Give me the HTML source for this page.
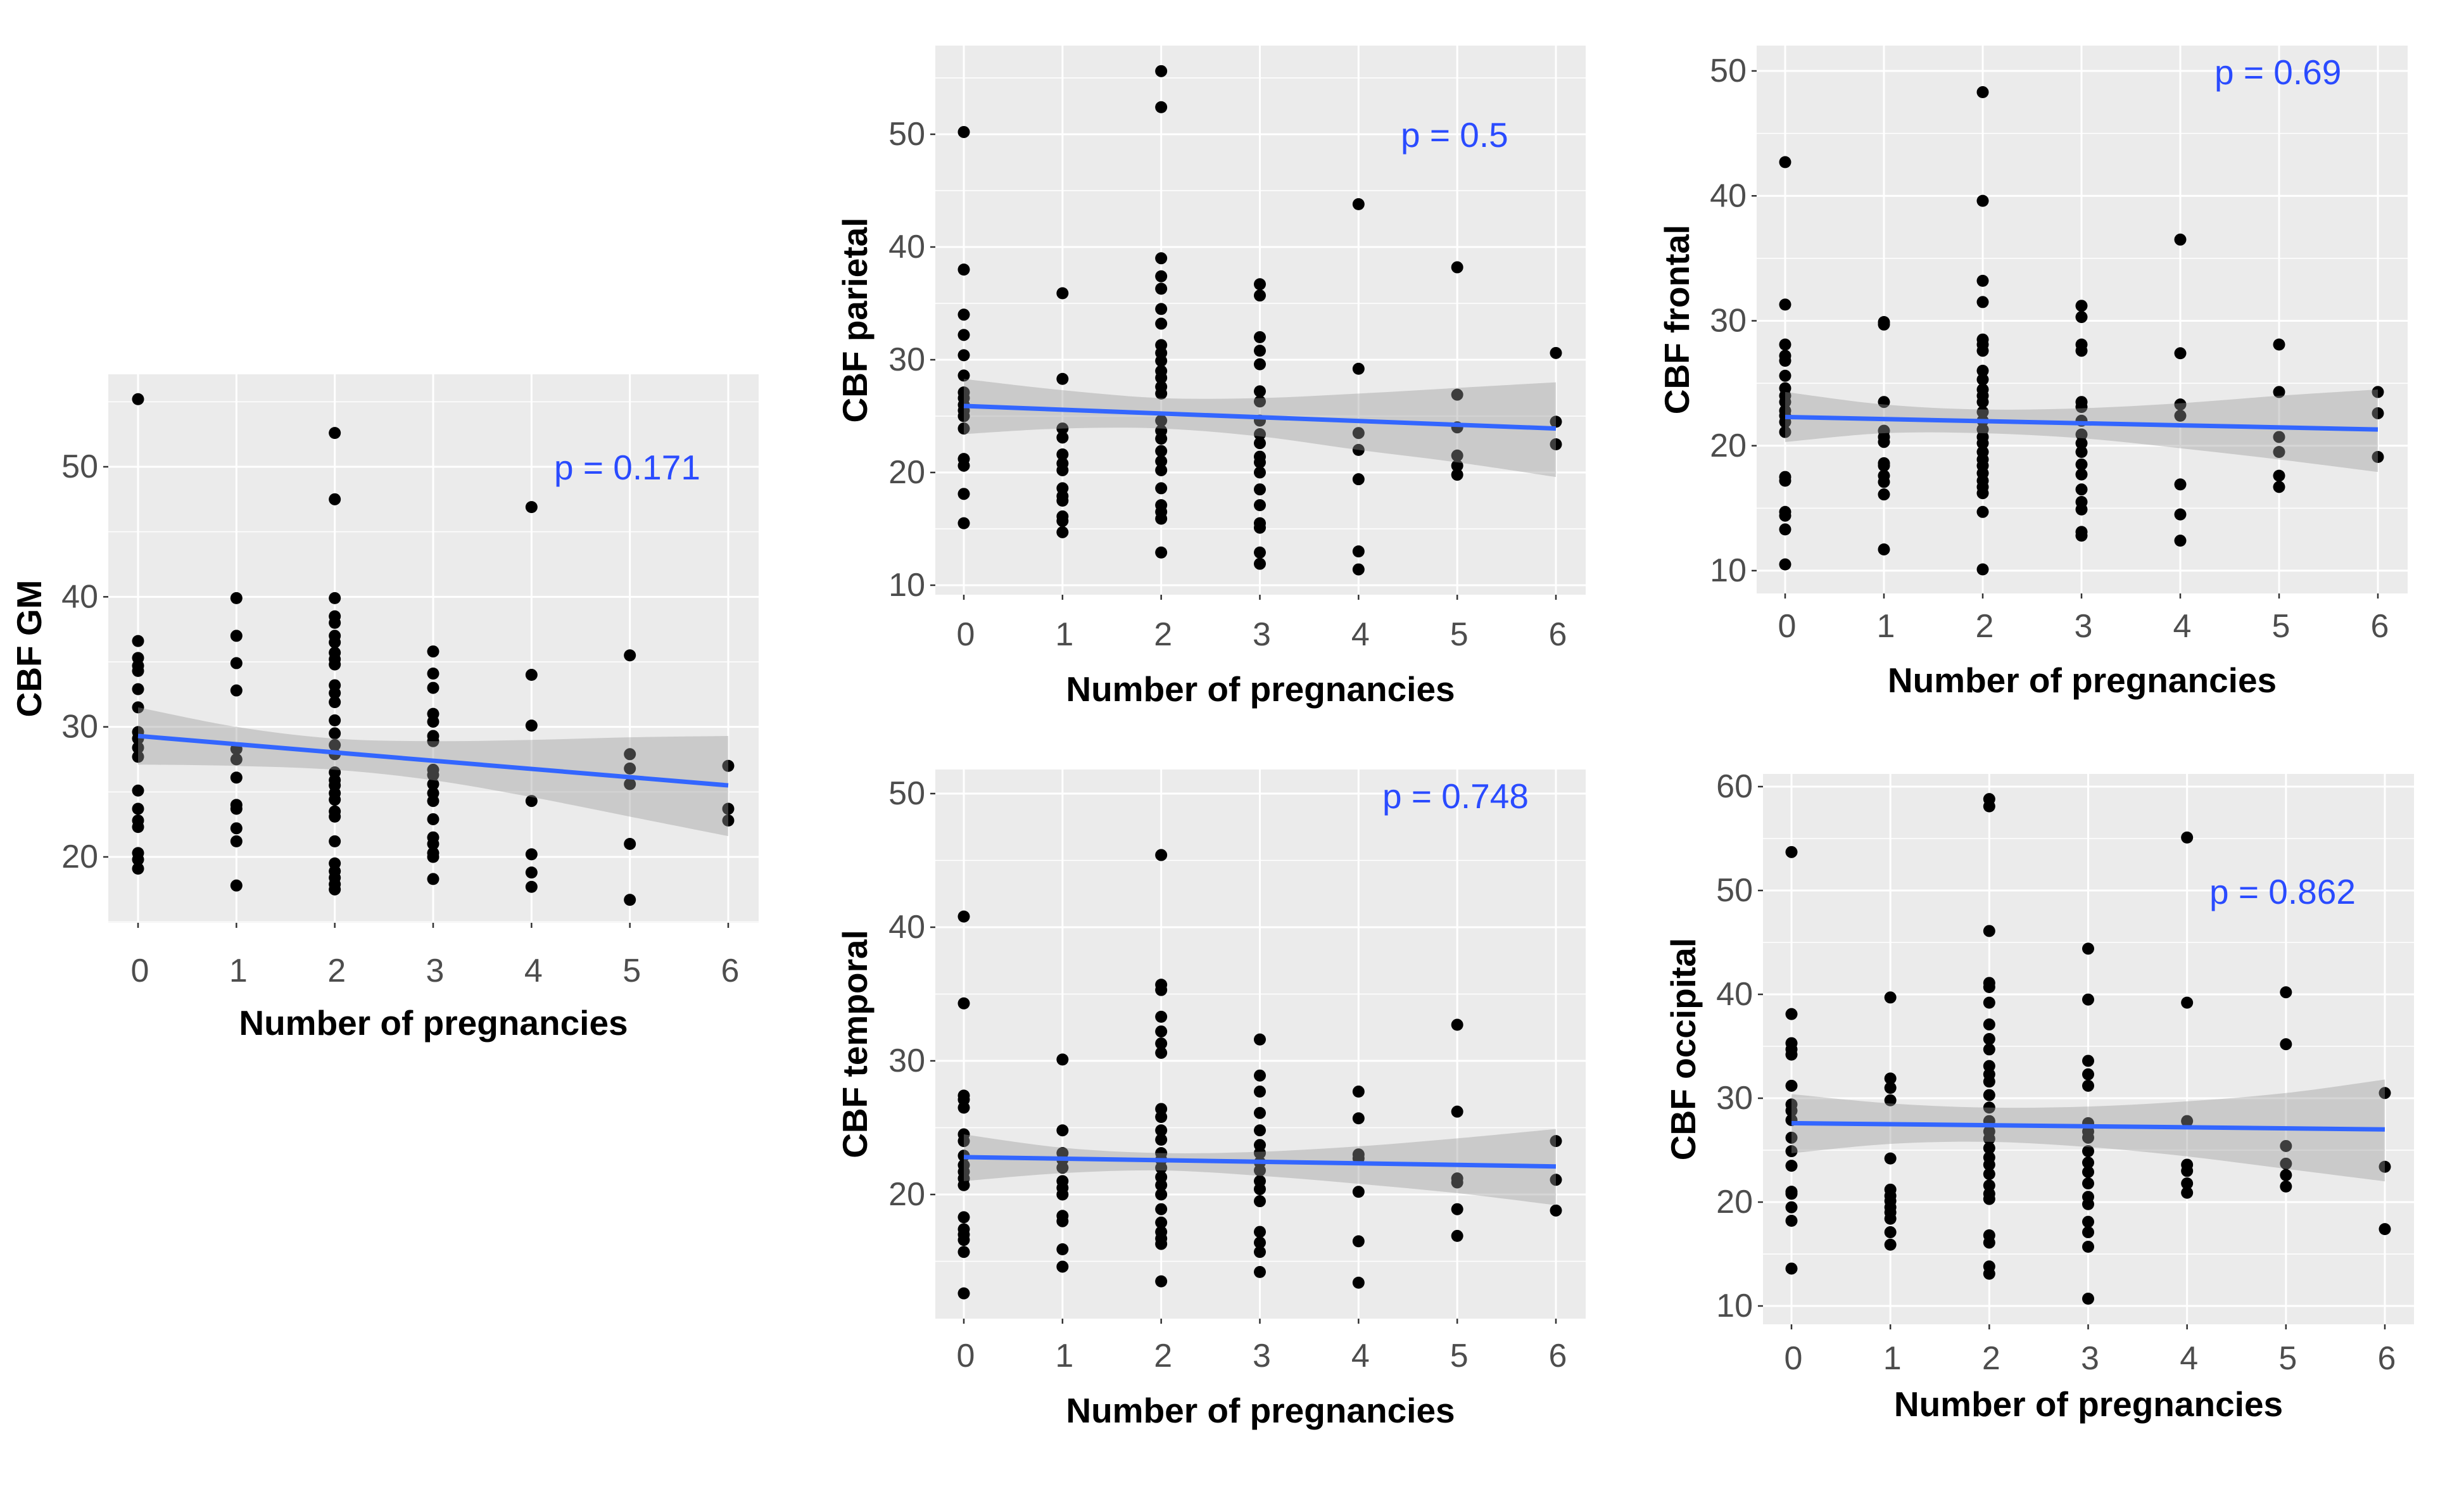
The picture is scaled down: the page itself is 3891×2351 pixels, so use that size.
<!DOCTYPE html>
<html><head><meta charset="utf-8">
<style>
html,body{margin:0;padding:0;background:#fff;}
svg{display:block;font-family:"Liberation Sans",Arial,sans-serif;}
</style></head>
<body>
<svg id="fig" width="3891" height="2351" viewBox="0 0 3891 2351" xmlns="http://www.w3.org/2000/svg"></svg>
<script>
// ---------- data ----------
const xCategories = [0,1,2,3,4,5,6];
const xTickLabels = ["0","1","2","3","4","5","6"];

const gmX0=[55.2,36.6,35.3,34.7,34.3,32.9,31.5,29.6,29.1,28.4,27.7,25.1,23.7,22.8,22.3,20.3,19.8,19.1];
const gmX1=[39.9,37.0,34.9,32.8,28.3,27.5,26.1,24.0,23.7,22.2,21.2,17.8];
const gmX2=[52.6,47.5,39.9,38.5,38.0,37.0,36.5,35.7,35.2,34.8,33.2,32.6,31.9,30.5,29.5,28.6,27.9,26.5,25.9,25.5,24.9,24.4,23.5,23.1,21.2,19.5,18.9,18.4,17.9,17.5];
const gmX3=[35.8,34.1,33.0,31.0,30.4,29.3,28.9,26.7,26.3,25.6,24.9,24.3,22.9,21.5,21.0,20.3,20.0,18.3];
const gmX4=[46.9,34.0,30.1,24.3,20.2,18.8,17.7];
const gmX5=[35.5,27.9,26.8,25.6,21.0,16.7];
const gmX6=[27.0,23.7,22.8];
const gmFit=[29.3,25.5];
const gmCiUpper=[31.5,30.0,29.1,28.9,29.0,29.2,29.3];
const gmCiLower=[27.1,27.0,26.7,25.9,24.6,23.1,21.6];
const gmYTicks=[20,30,40,50];

const parX0=[50.2,38.0,34.0,32.2,30.4,28.6,27.1,26.6,26.0,25.5,25.0,23.9,21.2,20.6,18.1,15.5];
const parX1=[35.9,28.3,23.9,23.1,21.6,20.8,20.2,18.6,17.9,17.5,16.1,15.7,14.7];
const parX2=[55.6,52.4,39.0,37.4,36.3,34.5,33.2,31.3,30.6,29.9,29.0,28.4,27.6,27.0,24.6,23.7,23.0,21.9,21.0,20.2,18.6,17.1,16.5,15.9,12.9];
const parX3=[36.7,35.7,32.0,30.8,29.6,27.2,26.3,24.6,23.4,22.6,21.4,20.9,20.0,18.5,17.1,15.5,15.1,12.9,11.9];
const parX4=[43.8,29.2,23.5,22.0,19.4,13.0,11.4];
const parX5=[38.2,26.9,24.0,21.5,20.6,19.8];
const parX6=[30.6,24.5,22.5];
const parFit=[25.9,23.9];
const parCiUpper=[28.3,27.3,26.6,26.6,27.0,27.5,28.0];
const parCiLower=[23.4,23.9,23.9,23.2,22.0,20.9,19.6];
const parYTicks=[10,20,30,40,50];

const froX0=[42.7,31.3,28.1,27.2,26.8,25.6,24.6,24.0,23.5,22.8,22.4,21.9,21.1,17.5,17.2,14.7,14.4,13.3,10.5];
const froX1=[29.9,29.7,23.5,21.2,20.7,20.3,18.6,18.4,17.6,17.1,16.1,11.7];
const froX2=[48.3,39.6,33.2,31.5,28.5,28.1,27.6,26.0,25.3,24.5,24.0,23.5,22.7,22.0,21.3,20.7,20.2,19.5,18.9,18.4,17.8,17.2,16.7,16.2,14.7,10.1];
const froX3=[31.2,30.3,28.1,27.6,23.5,23.1,22.0,20.9,20.2,19.5,18.5,17.7,16.5,15.5,14.9,13.1,12.8];
const froX4=[36.5,27.4,23.3,22.4,16.9,14.5,12.4];
const froX5=[28.1,24.3,20.7,19.5,17.6,16.7];
const froX6=[24.3,22.6,19.1];
const froFit=[22.3,21.3];
const froCiUpper=[24.3,23.3,22.9,23.0,23.4,24.0,24.5];
const froCiLower=[20.3,21.0,21.0,20.6,19.8,18.9,17.9];
const froYTicks=[10,20,30,40,50];

const temX0=[40.8,34.3,27.4,27.1,26.5,24.5,24.0,22.9,22.2,21.7,21.2,20.7,18.3,17.4,17.0,16.6,15.7,12.6];
const temX1=[30.1,24.8,23.1,22.6,22.0,21.0,20.5,20.0,18.4,18.0,15.9,14.6];
const temX2=[45.4,35.7,35.3,33.3,32.2,31.3,30.6,26.4,25.8,24.8,24.1,23.1,22.6,22.0,21.3,20.7,20.0,18.9,17.9,17.2,16.7,16.3,13.5];
const temX3=[31.6,28.9,27.7,26.1,24.8,23.7,23.1,22.4,21.8,21.0,20.4,19.5,17.2,16.4,15.7,14.2];
const temX4=[27.7,25.7,23.0,22.7,20.2,16.5,13.4];
const temX5=[32.7,26.2,21.2,20.9,18.9,16.9];
const temX6=[24.0,21.1,18.8];
const temFit=[22.8,22.1];
const temCiUpper=[24.5,23.5,23.1,23.2,23.6,24.2,24.9];
const temCiLower=[21.0,21.6,21.8,21.4,20.8,20.1,19.2];
const temYTicks=[20,30,40,50];

const occX0=[53.7,38.1,35.3,34.7,34.2,31.2,29.4,28.8,27.9,26.2,24.9,23.5,21.0,20.8,19.5,18.2,13.6];
const occX1=[39.7,31.9,31.0,29.8,24.2,21.2,20.6,20.1,19.5,19.0,18.4,17.1,15.9];
const occX2=[58.8,58.1,46.1,41.1,40.7,39.2,37.1,35.7,34.7,33.1,32.3,31.6,30.3,29.1,27.8,26.8,26.1,25.2,24.3,23.6,22.7,21.6,20.8,20.3,16.8,16.1,13.8,13.1];
const occX3=[44.4,39.5,33.6,32.3,31.2,27.6,26.8,26.2,24.9,23.8,22.9,21.8,20.5,19.8,18.1,17.1,15.7,10.7];
const occX4=[55.1,39.2,27.8,23.6,23.0,21.8,20.9];
const occX5=[40.2,35.2,25.4,23.7,22.6,21.5];
const occX6=[30.5,23.4,17.4];
const occFit=[27.6,27.0];
const occCiUpper=[30.4,29.5,29.1,29.2,29.7,30.5,31.8];
const occCiLower=[24.7,25.6,25.8,25.3,24.4,23.2,22.0];
const occYTicks=[10,20,30,40,50,60];

// ---------- layout (pixels, not data) ----------
const panels = [
 {key:"gm", title:"CBF GM", p:"p = 0.171", groups:[gmX0,gmX1,gmX2,gmX3,gmX4,gmX5,gmX6], fit:gmFit, up:gmCiUpper, lo:gmCiLower, ticks:gmYTicks,
  L:171,R:1198,T:591,B:1457, px0:218,px6:1150, ya:[50,737],yb:[20,1353], xlY:1533, xtY:1615, ytX:46, pX:875,pY:757},
 {key:"parietal", title:"CBF parietal", p:"p = 0.5", groups:[parX0,parX1,parX2,parX3,parX4,parX5,parX6], fit:parFit, up:parCiUpper, lo:parCiLower, ticks:parYTicks,
  L:1477,R:2504,T:72,B:939, px0:1522,px6:2457, ya:[50,212],yb:[10,924], xlY:1002, xtY:1088, ytX:1350, pX:2212,pY:232},
 {key:"frontal", title:"CBF frontal", p:"p = 0.69", groups:[froX0,froX1,froX2,froX3,froX4,froX5,froX6], fit:froFit, up:froCiUpper, lo:froCiLower, ticks:froYTicks,
  L:2774,R:3802,T:72,B:937, px0:2819,px6:3755, ya:[50,112],yb:[10,901], xlY:989, xtY:1074, ytX:2648, pX:3497,pY:133},
 {key:"temporal", title:"CBF temporal", p:"p = 0.748", groups:[temX0,temX1,temX2,temX3,temX4,temX5,temX6], fit:temFit, up:temCiUpper, lo:temCiLower, ticks:temYTicks,
  L:1477,R:2504,T:1215,B:2082, px0:1522,px6:2457, ya:[50,1253],yb:[20,1886], xlY:2141, xtY:2227, ytX:1350, pX:2183,pY:1276},
 {key:"occipital", title:"CBF occipital", p:"p = 0.862", groups:[occX0,occX1,occX2,occX3,occX4,occX5,occX6], fit:occFit, up:occCiUpper, lo:occCiLower, ticks:occYTicks,
  L:2784,R:3812,T:1222,B:2091, px0:2829,px6:3766, ya:[60,1242],yb:[10,2062], xlY:2145, xtY:2217, ytX:2658, pX:3489,pY:1427}
];

const NS="http://www.w3.org/2000/svg";
const svg=document.getElementById('fig');
function mk(tag,parent,attrs){const e=document.createElementNS(NS,tag);for(const k in attrs)e.setAttribute(k,attrs[k]);parent.appendChild(e);return e;}

panels.forEach(P=>{
  const g=mk('g',svg,{});
  
  
  const xs=v=>P.px0+(v-xCategories[0])*(P.px6-P.px0)/(xCategories[6]-xCategories[0]);
  const ys=v=>P.ya[1]+(v-P.ya[0])*(P.yb[1]-P.ya[1])/(P.yb[0]-P.ya[0]);

  const bg=mk('rect',g,{x:P.L,y:P.T,width:P.R-P.L,height:P.B-P.T,fill:'#ebebeb'});
  
  

  const step=P.ticks[1]-P.ticks[0];
  for(let v=P.ticks[0]-step/2; v<=P.ticks[P.ticks.length-1]+step/2+0.01; v+=step){
    const y=ys(v); if(y<P.T||y>P.B) continue;
    const m=mk('line',g,{x1:P.L,x2:P.R,y1:y,y2:y,stroke:'#fff','stroke-width':1.5});
    
    
  }
  P.ticks.forEach(v=>{
    const y=ys(v);
    const l=mk('line',g,{x1:P.L,x2:P.R,y1:y,y2:y,stroke:'#fff','stroke-width':3});
    
    
    mk('line',g,{x1:P.L-8,x2:P.L,y1:y,y2:y,stroke:'#333','stroke-width':2.5});
    const t=mk('text',g,{x:P.L-16,y:y,'text-anchor':'end','dominant-baseline':'central','font-size':52,fill:'#4d4d4d'});
    t.textContent=String(v);
    
    
  });
  xCategories.forEach((c,i)=>{
    const x=xs(c);
    const l=mk('line',g,{x1:x,x2:x,y1:P.T,y2:P.B,stroke:'#fff','stroke-width':3});
    
    
    mk('line',g,{x1:x,x2:x,y1:P.B,y2:P.B+8,stroke:'#333','stroke-width':2.5});
    const t=mk('text',g,{x:x+3,y:P.xlY,'text-anchor':'middle','dominant-baseline':'central','font-size':52,fill:'#4d4d4d'});
    t.textContent=xTickLabels[i];
    
    
  });
  P.groups.forEach((arr,i)=>{
    arr.forEach(v=>{
      const c=mk('circle',g,{cx:xs(xCategories[i]),cy:ys(v),r:9.5,fill:'#000'});
      
      
    });
  });
  const upPts=xCategories.map((c,i)=>[xs(c),ys(P.up[i])]);
  const loPts=xCategories.map((c,i)=>[xs(c),ys(P.lo[i])]).reverse();
  function smooth(pts,start){
    let d=start?`M${pts[0][0]},${pts[0][1]}`:`L${pts[0][0]},${pts[0][1]}`;
    for(let i=0;i<pts.length-1;i++){
      const p0=pts[i-1]||pts[i],p1=pts[i],p2=pts[i+1],p3=pts[i+2]||p2;
      const c1=[p1[0]+(p2[0]-p0[0])/6,p1[1]+(p2[1]-p0[1])/6];
      const c2=[p2[0]-(p3[0]-p1[0])/6,p2[1]-(p3[1]-p1[1])/6];
      d+=` C${c1[0]},${c1[1]} ${c2[0]},${c2[1]} ${p2[0]},${p2[1]}`;
    }
    return d;
  }
  const band=mk('path',g,{d:smooth(upPts,true)+' '+smooth(loPts,false)+' Z',fill:'#999999','fill-opacity':0.4});
  
  
  const fl=mk('line',g,{x1:xs(xCategories[0]),y1:ys(P.fit[0]),x2:xs(xCategories[6]),y2:ys(P.fit[1]),stroke:'#3366ff','stroke-width':7});
  
  
  const pt=mk('text',g,{x:P.pX,y:P.pY,'font-size':55,fill:'#2a4bff'});
  pt.textContent=P.p;
  
  
  const xt=mk('text',g,{x:(P.L+P.R)/2,y:P.xtY,'text-anchor':'middle','dominant-baseline':'central','font-size':55,'font-weight':'bold',fill:'#000'});
  xt.textContent='Number of pregnancies';
  
  
  const cy=(P.T+P.B)/2;
  const yt=mk('text',g,{x:P.ytX,y:cy,'text-anchor':'middle','dominant-baseline':'central','font-size':55,'font-weight':'bold',fill:'#000',transform:`rotate(-90 ${P.ytX} ${cy})`});
  yt.textContent=P.title;
  
  
});
</script>
</body></html>
